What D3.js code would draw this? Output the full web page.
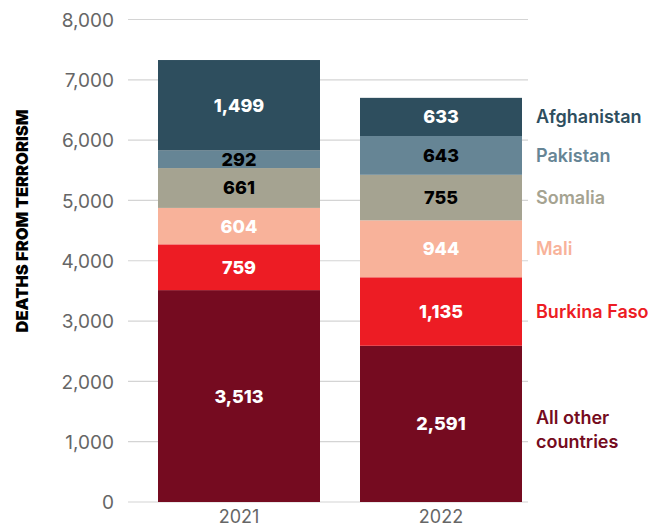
<!DOCTYPE html>
<html><head><meta charset="utf-8">
<script src="https://cdn.jsdelivr.net/npm/d3@7"></script>
<style>html,body{margin:0;padding:0;background:#fff;}</style>
</head><body>
<svg id="c" width="663" height="528"></svg>
<script>
const years = ["2021", "2022"];
const countries = ["All other countries", "Burkina Faso", "Mali", "Somalia", "Pakistan", "Afghanistan"];
const values2021 = [3513, 759, 604, 661, 292, 1499];
const values2022 = [2591, 1135, 944, 755, 643, 633];
const colors = ["#750b20", "#ed1c24", "#f8b29a", "#a5a391", "#668595", "#2e4e5e"];
const labelColors = ["#fff", "#fff", "#fff", "#000", "#000", "#fff"];
const legendColors = ["#750b20", "#ed1c24", "#f8b29a", "#a5a391", "#668595", "#2e4e5e"];
const yTicks = [0, 1000, 2000, 3000, 4000, 5000, 6000, 7000, 8000];

const svg = d3.select("#c");
const font = "Inter, 'Noto Sans', sans-serif";

const y = d3.scaleLinear().domain([0, 8000]).range([502, 19.5]);
const x = d3.scaleBand().domain(years).range([158, 522]).paddingInner(40 / 202).paddingOuter(0);

const rows = years.map((yr, i) => {
  const r = {year: yr};
  const vals = i === 0 ? values2021 : values2022;
  countries.forEach((c, j) => r[c] = vals[j]);
  return r;
});
const stack = d3.stack().keys(countries)(rows);

// grid
svg.append("g").selectAll("line").data(yTicks).join("line")
  .attr("x1", 128).attr("x2", 528)
  .attr("y1", d => y(d)).attr("y2", d => y(d))
  .attr("stroke", "#d4d4d4").attr("stroke-width", 1.2);

// y axis
const yAxis = d3.axisLeft(y).tickValues(yTicks).tickFormat(d3.format(",")).tickSize(0).tickPadding(0);
const ga = svg.append("g").attr("transform", "translate(114,0)").call(yAxis);
ga.select(".domain").remove();
ga.selectAll("text").attr("font-family", font).attr("font-size", 19).attr("fill", "#666").attr("dy", "0.35em");

// bars
stack.forEach((layer, j) => {
  const g = svg.append("g");
  g.selectAll("rect").data(layer).join("rect")
    .attr("x", d => x(d.data.year)).attr("width", x.bandwidth())
    .attr("y", d => y(d[1])).attr("height", d => y(d[0]) - y(d[1]))
    .attr("fill", colors[j]);
  g.selectAll("text").data(layer).join("text")
    .attr("x", d => x(d.data.year) + x.bandwidth() / 2)
    .attr("y", d => (y(d[0]) + y(d[1])) / 2)
    .attr("dy", "0.36em").attr("text-anchor", "middle")
    .attr("font-family", font).attr("font-weight", 800).attr("font-size", 18)
    .attr("fill", labelColors[j])
    .text(d => d3.format(",")(d[1] - d[0]));
});

// x axis labels
const xAxis = d3.axisBottom(x).tickSize(0).tickPadding(0);
const gx = svg.append("g").attr("transform", "translate(0,512)").call(xAxis);
gx.select(".domain").remove();
gx.selectAll("text").attr("font-family", font).attr("font-size", 18).attr("fill", "#666").attr("dy", "0.6em");

// legend (at 2022 segment centers)
const last = stack.map(l => l[1]);
svg.append("g").selectAll("text").data(countries).join("text")
  .attr("x", 536)
  .attr("y", (d, j) => (y(last[j][0]) + y(last[j][1])) / 2)
  .attr("font-family", font).attr("font-weight", 600).attr("font-size", 18)
  .attr("fill", (d, j) => legendColors[j])
  .each(function(d) {
    const t = d3.select(this);
    if (d === "All other countries") {
      t.append("tspan").attr("x", 536).attr("dy", "0.02em").text("All other");
      t.append("tspan").attr("x", 536).attr("dy", "1.3em").text("countries");
    } else {
      t.attr("dy", "0.36em").text(d);
    }
  });

// y title
svg.append("text")
  .attr("transform", "translate(28,221) rotate(-90)")
  .attr("text-anchor", "middle")
  .attr("font-family", font).attr("font-weight", 900).attr("font-size", 16.5)
  .attr("fill", "#000")
  .text("DEATHS FROM TERRORISM");
</script>
</body></html>
